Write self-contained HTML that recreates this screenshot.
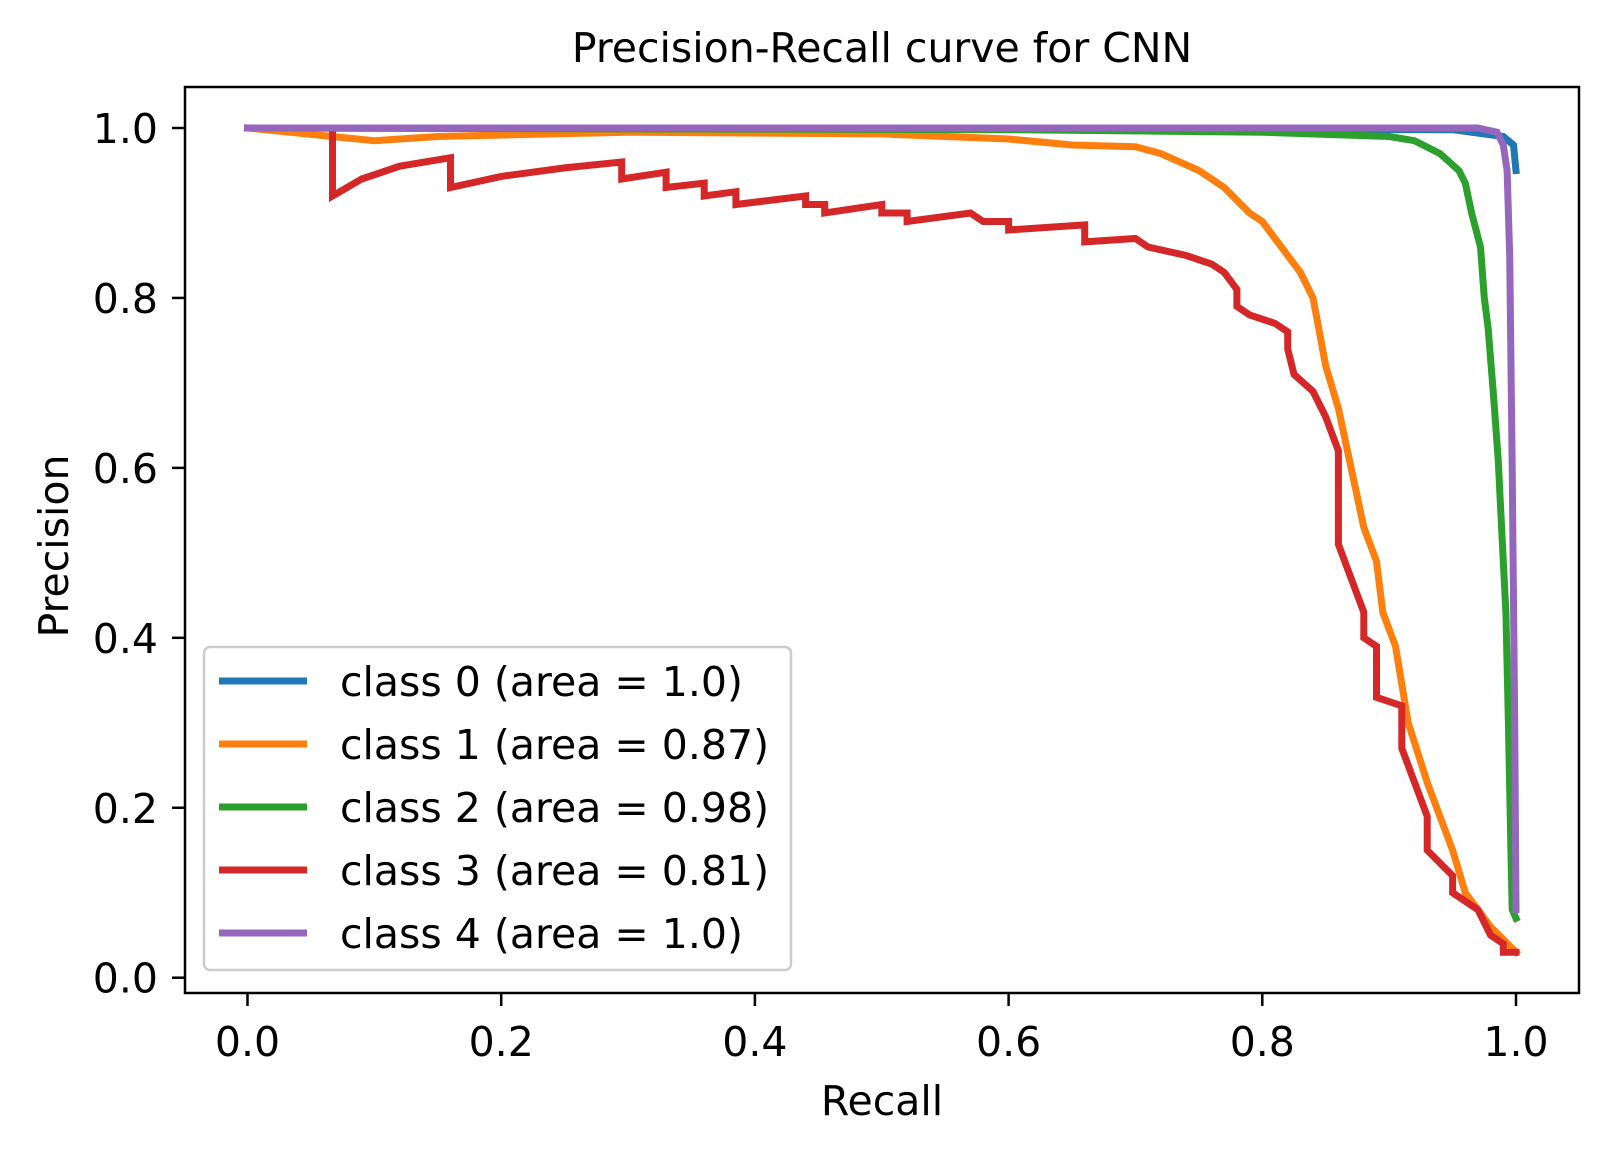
<!DOCTYPE html>
<html><head><meta charset="utf-8"><style>
body{margin:0;background:#fff;overflow:hidden}
svg text{font-family:"DejaVu Sans","Liberation Sans",sans-serif;fill:#000}
</style></head><body>
<svg id="c" width="1609" height="1153" xmlns="http://www.w3.org/2000/svg">
<rect width="1609" height="1153" fill="#fff"/>
<text x="882" y="62" font-size="41" text-anchor="middle">Precision-Recall curve for CNN</text>
<g id="axes"></g>
<g id="series"></g>
<rect x="185" y="87" width="1394" height="906" fill="none" stroke="#000" stroke-width="2.5"/>
<text x="882" y="1115" font-size="41" text-anchor="middle">Recall</text>
<text transform="translate(68,546) rotate(-90)" font-size="41" text-anchor="middle">Precision</text>
<g id="legend"></g>
</svg>
<script>
const xTicks=[0,0.2,0.4,0.6,0.8,1.0];
const yTicks=[0,0.2,0.4,0.6,0.8,1.0];
const tickLabels=["0.0","0.2","0.4","0.6","0.8","1.0"];
const seriesNames=["class 0 (area = 1.0)","class 1 (area = 0.87)","class 2 (area = 0.98)","class 3 (area = 0.81)","class 4 (area = 1.0)"];
const colors=["#1f77b4","#ff7f0e","#2ca02c","#d62728","#9467bd"];
const class0=[[0,1],[0.95,0.998],[0.99,0.99],[0.998,0.98],[1.0,0.95]];
const class1=[[0,1],[0.1,0.985],[0.15,0.99],[0.3,0.995],[0.5,0.993],[0.6,0.987],[0.65,0.98],[0.7,0.978],[0.72,0.97],[0.75,0.95],[0.77,0.93],[0.79,0.9],[0.8,0.89],[0.81,0.87],[0.82,0.85],[0.83,0.83],[0.84,0.8],[0.845,0.76],[0.85,0.72],[0.86,0.67],[0.87,0.6],[0.88,0.53],[0.89,0.49],[0.895,0.43],[0.905,0.39],[0.915,0.3],[0.93,0.23],[0.94,0.19],[0.95,0.15],[0.96,0.1],[0.98,0.06],[1.0,0.03]];
const class2=[[0,1],[0.6,0.998],[0.8,0.995],[0.9,0.99],[0.92,0.985],[0.94,0.97],[0.955,0.95],[0.96,0.935],[0.965,0.9],[0.972,0.86],[0.975,0.8],[0.978,0.765],[0.982,0.69],[0.986,0.61],[0.989,0.52],[0.992,0.43],[0.994,0.3],[0.996,0.15],[0.997,0.08],[1.0,0.07]];
const class3=[[0,1],[0.067,1],[0.067,0.92],[0.09,0.94],[0.12,0.955],[0.16,0.965],[0.16,0.93],[0.2,0.943],[0.25,0.953],[0.295,0.96],[0.295,0.94],[0.33,0.948],[0.33,0.93],[0.36,0.935],[0.36,0.92],[0.385,0.925],[0.385,0.91],[0.44,0.92],[0.44,0.91],[0.455,0.91],[0.455,0.9],[0.5,0.91],[0.5,0.9],[0.52,0.9],[0.52,0.89],[0.57,0.9],[0.58,0.89],[0.6,0.89],[0.6,0.88],[0.66,0.886],[0.66,0.866],[0.7,0.87],[0.71,0.86],[0.74,0.85],[0.76,0.84],[0.77,0.83],[0.78,0.81],[0.78,0.79],[0.79,0.78],[0.81,0.77],[0.82,0.76],[0.82,0.74],[0.825,0.71],[0.84,0.69],[0.85,0.66],[0.86,0.62],[0.86,0.51],[0.87,0.47],[0.88,0.43],[0.88,0.4],[0.89,0.39],[0.89,0.33],[0.91,0.32],[0.91,0.27],[0.92,0.23],[0.93,0.19],[0.93,0.15],[0.95,0.12],[0.95,0.10],[0.97,0.08],[0.98,0.05],[0.99,0.04],[0.99,0.03],[1.0,0.03]];
const class4=[[0,1],[0.97,1],[0.985,0.995],[0.99,0.98],[0.993,0.95],[0.995,0.85],[0.997,0.6],[0.999,0.3],[1.0,0.08]];
const allSeries=[class0,class1,class2,class3,class4];
const drawOrder=[0,1,2,3,4];
const NS="http://www.w3.org/2000/svg";
function xs(v){return 247.5+v*1268.5;}
function ys(v){return 977.7-v*849.7;}
function mk(tag,attrs,parent){const e=document.createElementNS(NS,tag);for(const k in attrs)e.setAttribute(k,attrs[k]);parent.appendChild(e);return e;}
const ax=document.getElementById('axes');
xTicks.forEach((t,i)=>{
  const l=mk('line',{x1:xs(t),x2:xs(t),y1:993,y2:1006,stroke:'#000','stroke-width':2.5},ax);
  
  
  const tx=mk('text',{x:xs(t),y:1056,'font-size':41,'text-anchor':'middle'},ax);
  tx.textContent=tickLabels[i];
  
  
});
yTicks.forEach((t,i)=>{
  const l=mk('line',{x1:172,x2:185,y1:ys(t),y2:ys(t),stroke:'#000','stroke-width':2.5},ax);
  
  
  const tx=mk('text',{x:158,y:ys(t)+15,'font-size':41,'text-anchor':'end'},ax);
  tx.textContent=tickLabels[i];
  
  
});
const sg=document.getElementById('series');
drawOrder.forEach(i=>{
  const d=allSeries[i].map((p,j)=>(j?'L':'M')+xs(p[0]).toFixed(1)+','+ys(p[1]).toFixed(1)).join(' ');
  const p=mk('path',{d:d,fill:'none',stroke:colors[i],'stroke-width':7,'stroke-linejoin':'miter','stroke-linecap':'square'},sg);
  
  
});
const lg=document.getElementById('legend');
const box=mk('rect',{x:204,y:647,width:587,height:323,rx:6,fill:'#fff','fill-opacity':0.8,stroke:'#ccc','stroke-width':2.5},lg);


seriesNames.forEach((n,i)=>{
  const y=681+i*63;
  const l=mk('line',{x1:219,x2:307,y1:y,y2:y,stroke:colors[i],'stroke-width':7},lg);
  
  
  const t=mk('text',{x:340,y:y+15,'font-size':41},lg);
  t.textContent=n;
  
  
});
</script>
</body></html>
